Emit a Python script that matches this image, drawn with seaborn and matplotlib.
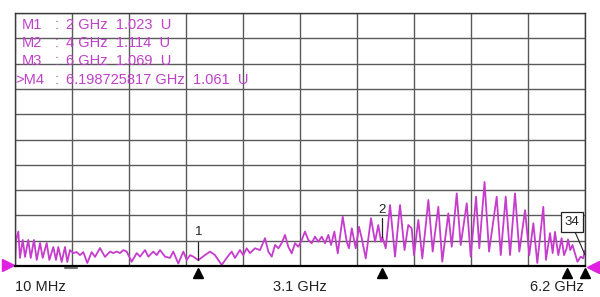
import numpy as np
import pandas as pd
import matplotlib
matplotlib.use("Agg")
import matplotlib.pyplot as plt
import matplotlib.transforms as mtransforms
import seaborn as sns

# trace (GHz, SWR units)
freq_ghz = [
    0.010, 0.021, 0.046, 0.064, 0.094, 0.119, 0.154, 0.181, 0.216, 0.246,
    0.282, 0.311, 0.354, 0.383, 0.426, 0.455, 0.480, 0.517, 0.553, 0.578,
    0.607, 0.643, 0.680, 0.716, 0.752, 0.795, 0.843, 0.879, 0.933, 0.987,
    1.042, 1.078, 1.114, 1.150, 1.186, 1.223, 1.277, 1.332, 1.368, 1.422,
    1.458, 1.512, 1.549, 1.585, 1.639, 1.693, 1.729, 1.783, 1.838, 1.875,
    1.911, 1.946, 2.000, 2.073, 2.128, 2.182, 2.255, 2.309, 2.363, 2.399,
    2.453, 2.489, 2.526, 2.562, 2.616, 2.671, 2.725, 2.761, 2.798, 2.834,
    2.870, 2.906, 2.942, 2.978, 3.015, 3.051, 3.087, 3.124, 3.159, 3.195,
    3.232, 3.268, 3.304, 3.341, 3.377, 3.413, 3.442, 3.478, 3.515, 3.569,
    3.612, 3.637, 3.667, 3.710, 3.746, 3.775, 3.819, 3.876, 3.920, 3.955,
    3.985, 4.000, 4.036, 4.083, 4.137, 4.191, 4.240, 4.281, 4.318, 4.343,
    4.390, 4.433, 4.499, 4.546, 4.607, 4.650, 4.716, 4.753, 4.807, 4.850,
    4.916, 4.959, 5.017, 5.052, 5.109, 5.158, 5.241, 5.285, 5.339, 5.386,
    5.440, 5.487, 5.549, 5.595, 5.639, 5.682, 5.747, 5.776, 5.820, 5.849,
    5.874, 5.910, 5.946, 5.972, 6.000, 6.015, 6.040, 6.064, 6.118, 6.154,
    6.180, 6.199,
]
swr = [
    1.008, 1.103, 1.136, 1.032, 1.103, 1.036, 1.103, 1.032, 1.103, 1.024,
    1.091, 1.032, 1.091, 1.024, 1.075, 1.024, 1.075, 1.016, 1.075, 1.016,
    1.063, 1.051, 1.055, 1.043, 1.055, 1.012, 1.055, 1.036, 1.071, 1.036,
    1.057, 1.051, 1.057, 1.051, 1.063, 1.057, 1.017, 1.051, 1.037, 1.063,
    1.037, 1.057, 1.043, 1.063, 1.037, 1.032, 1.057, 1.010, 1.057, 1.024,
    1.043, 1.037, 1.023, 1.043, 1.057, 1.043, 1.004, 1.032, 1.057, 1.032,
    1.063, 1.043, 1.070, 1.051, 1.070, 1.063, 1.110, 1.057, 1.037, 1.083,
    1.070, 1.090, 1.123, 1.076, 1.050, 1.090, 1.076, 1.103, 1.136, 1.103,
    1.090, 1.116, 1.096, 1.116, 1.090, 1.123, 1.083, 1.136, 1.050, 1.195,
    1.096, 1.070, 1.149, 1.070, 1.155, 1.110, 1.030, 1.189, 1.096, 1.162,
    1.096, 1.114, 1.070, 1.241, 1.037, 1.241, 1.063, 1.162, 1.149, 1.043,
    1.182, 1.030, 1.261, 1.057, 1.234, 1.017, 1.208, 1.076, 1.287, 1.083,
    1.248, 1.037, 1.274, 1.070, 1.332, 1.057, 1.274, 1.043, 1.274, 1.043,
    1.287, 1.057, 1.221, 1.043, 1.169, 1.012, 1.234, 1.024, 1.130, 1.051,
    1.135, 1.043, 1.110, 1.043, 1.069, 1.105, 1.063, 1.083, 1.017, 1.037,
    1.030, 1.061,
]

marker_names = ["M1", "M2", "M3", ">M4"]
marker_freq = [2.0, 4.0, 6.0, 6.198725817]
marker_freq_txt = ["2", "4", "6", "6.198725817"]
marker_val = [1.023, 1.114, 1.069, 1.061]

x_tick_labels = ["10 MHz", "3.1 GHz", "6.2 GHz"]
f_start, f_stop = 0.01, 6.2
y_bottom, y_top = 1.0, 2.0

df = pd.DataFrame({"freq": freq_ghz, "swr": swr})

sns.set_theme(style="white")
plt.rcParams['font.family'] = ['Liberation Sans', 'DejaVu Sans']

fig = plt.figure(figsize=(6.0, 2.97), dpi=100)
ax = fig.add_axes([15 / 600, 31 / 297, 570 / 600, 253 / 297])

trace_col = "#c63ccc"
sns.lineplot(data=df, x="freq", y="swr", ax=ax, color=trace_col, lw=1.3,
             estimator=None, sort=False, solid_joinstyle="round")

ax.set_xlim(f_start, f_stop)
ax.set_ylim(y_bottom, y_top)
ax.set_xticks(np.linspace(f_start, f_stop, 11))
ax.set_yticks(np.linspace(y_bottom, y_top, 11))
ax.set_xticklabels([])
ax.set_yticklabels([])
ax.tick_params(length=0)
ax.set_xlabel("")
ax.set_ylabel("")
ax.grid(True, color="#5a5a5a", lw=1.0)
ax.set_axisbelow(True)
for s in ["left", "top", "right"]:
    ax.spines[s].set_color("#3a3a3a")
    ax.spines[s].set_linewidth(1.0)
ax.spines["bottom"].set_color("black")
ax.spines["bottom"].set_linewidth(1.6)

# marker readout block, laid out in columns like the analyser screen
mk_col = "#c040c8"
ys = [0.953, 0.881, 0.810, 0.735]
for name, ft, v, yy in zip(marker_names, marker_freq_txt, marker_val, ys):
    xx = 0.0123 if not name.startswith(">") else 0.0
    ax.text(xx, yy, name, transform=ax.transAxes, color=mk_col,
            fontsize=10.5, va="center", ha="left")
    ax.text(0.070, yy, ":", transform=ax.transAxes, color=mk_col,
            fontsize=10.5, va="center", ha="left")
    ax.text(0.0895, yy, f"{ft} GHz  {v:.3f}  U", transform=ax.transAxes,
            color=mk_col, fontsize=10.5, va="center", ha="left")

# marker flags on the trace
ax.text(marker_freq[0], 1.136, "1", ha="center", va="center", fontsize=9.5, color="#222")
ax.plot([marker_freq[0]] * 2, [1.096, 1.024], color="#222", lw=0.9)
ax.text(marker_freq[1], 1.222, "2", ha="center", va="center", fontsize=9.5, color="#222")
ax.plot([marker_freq[1]] * 2, [1.190, 1.115], color="#222", lw=0.9)
ax.text(6.06, 1.174, "34", ha="center", va="center", fontsize=9.5, color="#222",
        bbox=dict(boxstyle="square,pad=0.28", fc="white", ec="#222", lw=0.9))
ax.plot([6.09, 6.199], [1.136, 1.045], color="#222", lw=0.8)

# black marker triangles under the axis
blend = mtransforms.blended_transform_factory(ax.transData, ax.transAxes)
ax.plot(marker_freq, [-0.027] * len(marker_freq), ls="none", marker="^",
        color="black", ms=7, transform=blend, clip_on=False)

# reference-level pointers and small dash
ax.plot([-0.013], [0.003], marker=">", color="#e020e0", ms=9, ls="none",
        transform=ax.transAxes, clip_on=False)
ax.plot([1.014], [-0.004], marker="<", color="#e020e0", ms=9, ls="none",
        transform=ax.transAxes, clip_on=False)
ax.plot([0.088, 0.109], [-0.008, -0.008], color="#777", lw=1.5,
        transform=ax.transAxes, clip_on=False)

# frequency labels
fig.text(15 / 600, 10 / 297, x_tick_labels[0], ha="left", va="center", fontsize=10.5, color="#222")
fig.text(300 / 600, 10 / 297, x_tick_labels[1], ha="center", va="center", fontsize=10.5, color="#222")
fig.text(584 / 600, 10 / 297, x_tick_labels[2], ha="right", va="center", fontsize=10.5, color="#222")

fig.savefig("out.png", dpi=100)
